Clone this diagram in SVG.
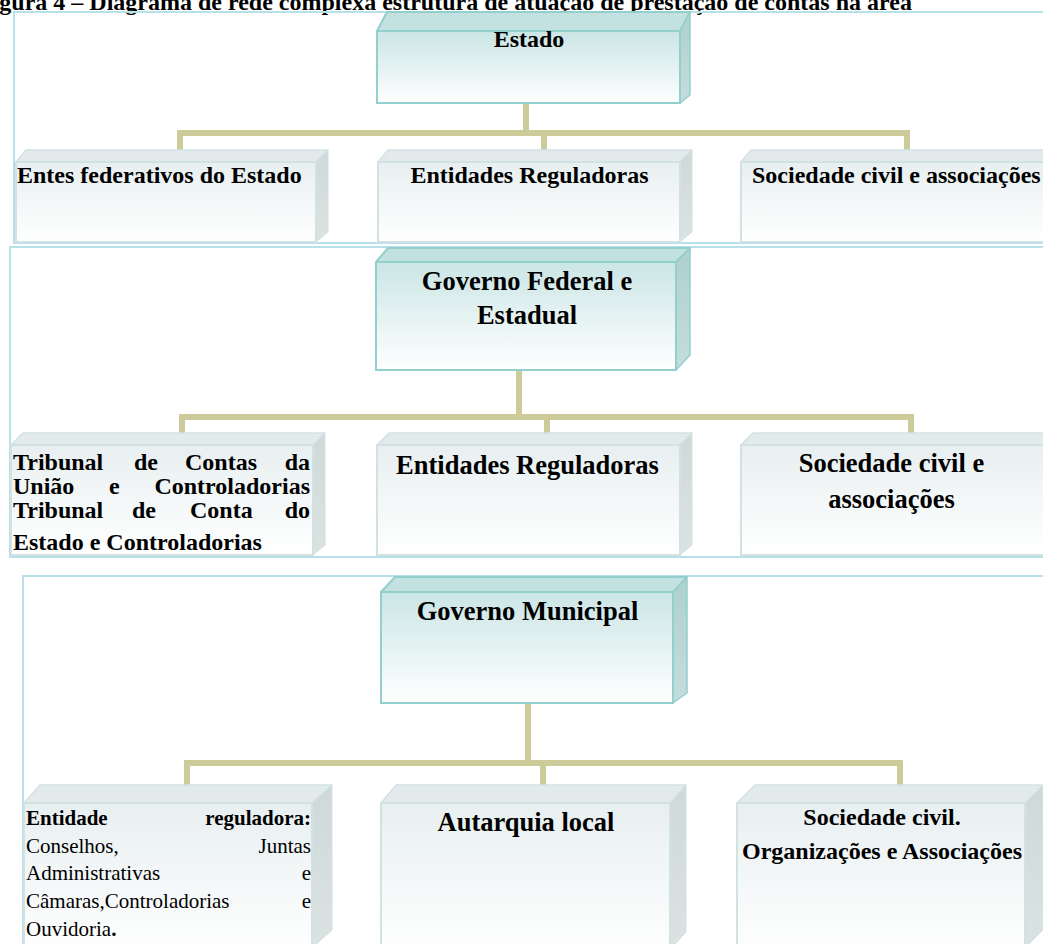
<svg xmlns="http://www.w3.org/2000/svg" width="1043" height="944" viewBox="0 0 1043 944">
  <defs>
    <linearGradient id="gMainFront" x1="0" y1="0" x2="0" y2="1">
      <stop offset="0" stop-color="#cbe5e5"/>
      <stop offset="1" stop-color="#ffffff"/>
    </linearGradient>
    <linearGradient id="gMainSide" x1="0" y1="0" x2="0" y2="1">
      <stop offset="0" stop-color="#aed0cf"/>
      <stop offset="1" stop-color="#c4dddc"/>
    </linearGradient>
    <linearGradient id="gSubFront" x1="0" y1="0" x2="0" y2="1">
      <stop offset="0" stop-color="#e8eff0"/>
      <stop offset="1" stop-color="#ffffff"/>
    </linearGradient>
    <linearGradient id="gSubSide" x1="0" y1="0" x2="0" y2="1">
      <stop offset="0" stop-color="#cfd9d9"/>
      <stop offset="1" stop-color="#dbe2e2"/>
    </linearGradient>
    <style>
      .panel { fill: none; stroke: #b7e0e8; stroke-width: 2; }
      .mFront { fill: url(#gMainFront); stroke: #93cfcc; stroke-width: 2; }
      .mTop { fill: #c3e1e0; stroke: #93cfcc; stroke-width: 2; stroke-linejoin: round; }
      .mSide { fill: url(#gMainSide); stroke: #93cfcc; stroke-width: 1.5; stroke-linejoin: round; }
      .sFront { fill: url(#gSubFront); stroke: #d2e2e3; stroke-width: 2; }
      .sTop { fill: #e3eaeb; stroke: #d2e2e3; stroke-width: 1.5; stroke-linejoin: round; }
      .sSide { fill: url(#gSubSide); stroke: #d2e2e3; stroke-width: 1; stroke-linejoin: round; }
      .link { fill: none; stroke: #cccb99; stroke-width: 6; stroke-linejoin: miter; }
      text { font-family: "Liberation Serif", "Times New Roman", serif; fill: #000; }
      .b24 { font-size: 24px; font-weight: bold; }
      .b26 { font-size: 26.5px; font-weight: bold; }
      .b21 { font-size: 21px; font-weight: bold; }
      .r21 { font-size: 21px; }
      .mid { text-anchor: middle; }
      .end { text-anchor: end; }
    </style>
  </defs>

  <rect width="1043" height="944" fill="#ffffff"/>

  <!-- caption line, mostly above the top edge -->
  <text class="b24" x="-22" y="10">Figura 4 – Diagrama de rede complexa estrutura de atuação de prestação de contas na área</text>

  <!-- section frames -->
  <g id="frames">
    <rect class="panel" x="14" y="12" width="1040" height="231"/>
    <rect class="panel" x="10" y="247" width="1044" height="310"/>
    <rect class="panel" x="23" y="576" width="1031" height="380"/>
  </g>

  <!-- connectors -->
  <g id="connectors">
    <polyline class="link" points="526,103 526,133 180,133 180,150"/>
    <polyline class="link" points="526,103 526,133 544,133 544,150"/>
    <polyline class="link" points="526,103 526,133 907,133 907,150"/>

    <polyline class="link" points="519,370 519,417 182,417 182,433"/>
    <polyline class="link" points="519,370 519,417 547,417 547,433"/>
    <polyline class="link" points="519,370 519,417 911,417 911,433"/>

    <polyline class="link" points="528,703 528,763 187,763 187,785"/>
    <polyline class="link" points="528,703 528,763 543,763 543,785"/>
    <polyline class="link" points="528,703 528,763 900,763 900,785"/>
  </g>

  <!-- level 1 -->
  <g id="estado">
    <polygon class="mTop" points="377,31 387,12 690,12 680,31"/>
    <polygon class="mSide" points="680,31 690,12 690,95 680,103"/>
    <rect class="mFront" x="377" y="31" width="303" height="72"/>
    <text class="b24 mid" x="529" y="47">Estado</text>
  </g>

  <g id="entes-federativos">
    <polygon class="sTop" points="16,162 26,150 328,150 316,162"/>
    <polygon class="sSide" points="316,162 328,150 328,232 316,242"/>
    <rect class="sFront" x="16" y="162" width="300" height="80"/>
    <text class="b24" x="17" y="183">Entes federativos do Estado</text>
  </g>

  <g id="entidades-reguladoras-1">
    <polygon class="sTop" points="378,162 388,150 692,150 680,162"/>
    <polygon class="sSide" points="680,162 692,150 692,232 680,242"/>
    <rect class="sFront" x="378" y="162" width="302" height="80"/>
    <text class="b24 mid" x="529.5" y="183">Entidades Reguladoras</text>
  </g>

  <g id="sociedade-civil-1">
    <polygon class="sTop" points="741,162 751,150 1075,150 1065,162"/>
    <rect class="sFront" x="741" y="162" width="324" height="80"/>
    <text class="b24" x="752" y="183">Sociedade civil e associações</text>
  </g>

  <!-- level 2 -->
  <g id="governo-federal">
    <polygon class="mTop" points="376,262 388,248 690,248 676,262"/>
    <polygon class="mSide" points="676,262 690,248 690,355 676,370"/>
    <rect class="mFront" x="376" y="262" width="300" height="108"/>
    <text class="b26 mid" x="527" y="290">Governo Federal e</text>
    <text class="b26 mid" x="527" y="324">Estadual</text>
  </g>

  <g id="tribunal-contas">
    <polygon class="sTop" points="11,445 23,433 325,433 313,445"/>
    <polygon class="sSide" points="313,445 325,433 325,545 313,555"/>
    <rect class="sFront" x="11" y="445" width="302" height="110"/>
    <text class="b24" y="470"><tspan x="13">Tribunal</tspan><tspan x="134">de</tspan><tspan x="185">Contas</tspan><tspan x="310" class="end">da</tspan></text>
    <text class="b24" y="494"><tspan x="13">União</tspan><tspan x="109">e</tspan><tspan x="310" class="end">Controladorias</tspan></text>
    <text class="b24" y="518"><tspan x="13">Tribunal</tspan><tspan x="132">de</tspan><tspan x="190">Conta</tspan><tspan x="310" class="end">do</tspan></text>
    <text class="b24" x="13" y="550">Estado e Controladorias</text>
  </g>

  <g id="entidades-reguladoras-2">
    <polygon class="sTop" points="377,445 389,433 692,433 680,445"/>
    <polygon class="sSide" points="680,445 692,433 692,545 680,555"/>
    <rect class="sFront" x="377" y="445" width="303" height="110"/>
    <text class="b26 mid" x="527.5" y="474">Entidades Reguladoras</text>
  </g>

  <g id="sociedade-civil-2">
    <polygon class="sTop" points="741,445 753,433 1075,433 1063,445"/>
    <rect class="sFront" x="741" y="445" width="322" height="110"/>
    <text class="b26 mid" x="891.5" y="472">Sociedade civil e</text>
    <text class="b26 mid" x="891.5" y="508">associações</text>
  </g>

  <!-- level 3 -->
  <g id="governo-municipal">
    <polygon class="mTop" points="381,592 395,577 687,577 673,592"/>
    <polygon class="mSide" points="673,592 687,577 687,693 673,703"/>
    <rect class="mFront" x="381" y="592" width="292" height="111"/>
    <text class="b26 mid" x="527.5" y="620">Governo Municipal</text>
  </g>

  <g id="entidade-reguladora">
    <polygon class="sTop" points="24,803 40,785 332,785 312,803"/>
    <polygon class="sSide" points="312,803 332,785 332,930 312,948"/>
    <rect class="sFront" x="24" y="803" width="288" height="150"/>
    <text class="b21" y="825"><tspan x="26">Entidade</tspan><tspan x="311" class="end">reguladora:</tspan></text>
    <text class="r21" y="853"><tspan x="26">Conselhos,</tspan><tspan x="311" class="end">Juntas</tspan></text>
    <text class="r21" y="880"><tspan x="26">Administrativas</tspan><tspan x="311" class="end">e</tspan></text>
    <text class="r21" y="908"><tspan x="26">Câmaras,Controladorias</tspan><tspan x="311" class="end">e</tspan></text>
    <text class="r21" x="26" y="936">Ouvidoria<tspan font-weight="bold">.</tspan></text>
  </g>

  <g id="autarquia-local">
    <polygon class="sTop" points="381,803 396,785 686,785 670,803"/>
    <polygon class="sSide" points="670,803 686,785 686,932 670,950"/>
    <rect class="sFront" x="381" y="803" width="289" height="150"/>
    <text class="b26 mid" x="526" y="831">Autarquia local</text>
  </g>

  <g id="sociedade-civil-3">
    <polygon class="sTop" points="737,803 755,785 1043,785 1025,803"/>
    <polygon class="sSide" points="1025,803 1043,785 1043,930 1025,948"/>
    <rect class="sFront" x="737" y="803" width="288" height="150"/>
    <text class="b24 mid" x="882" y="825">Sociedade civil.</text>
    <text class="b24 mid" x="882" y="859">Organizações e Associações</text>
  </g>
</svg>
